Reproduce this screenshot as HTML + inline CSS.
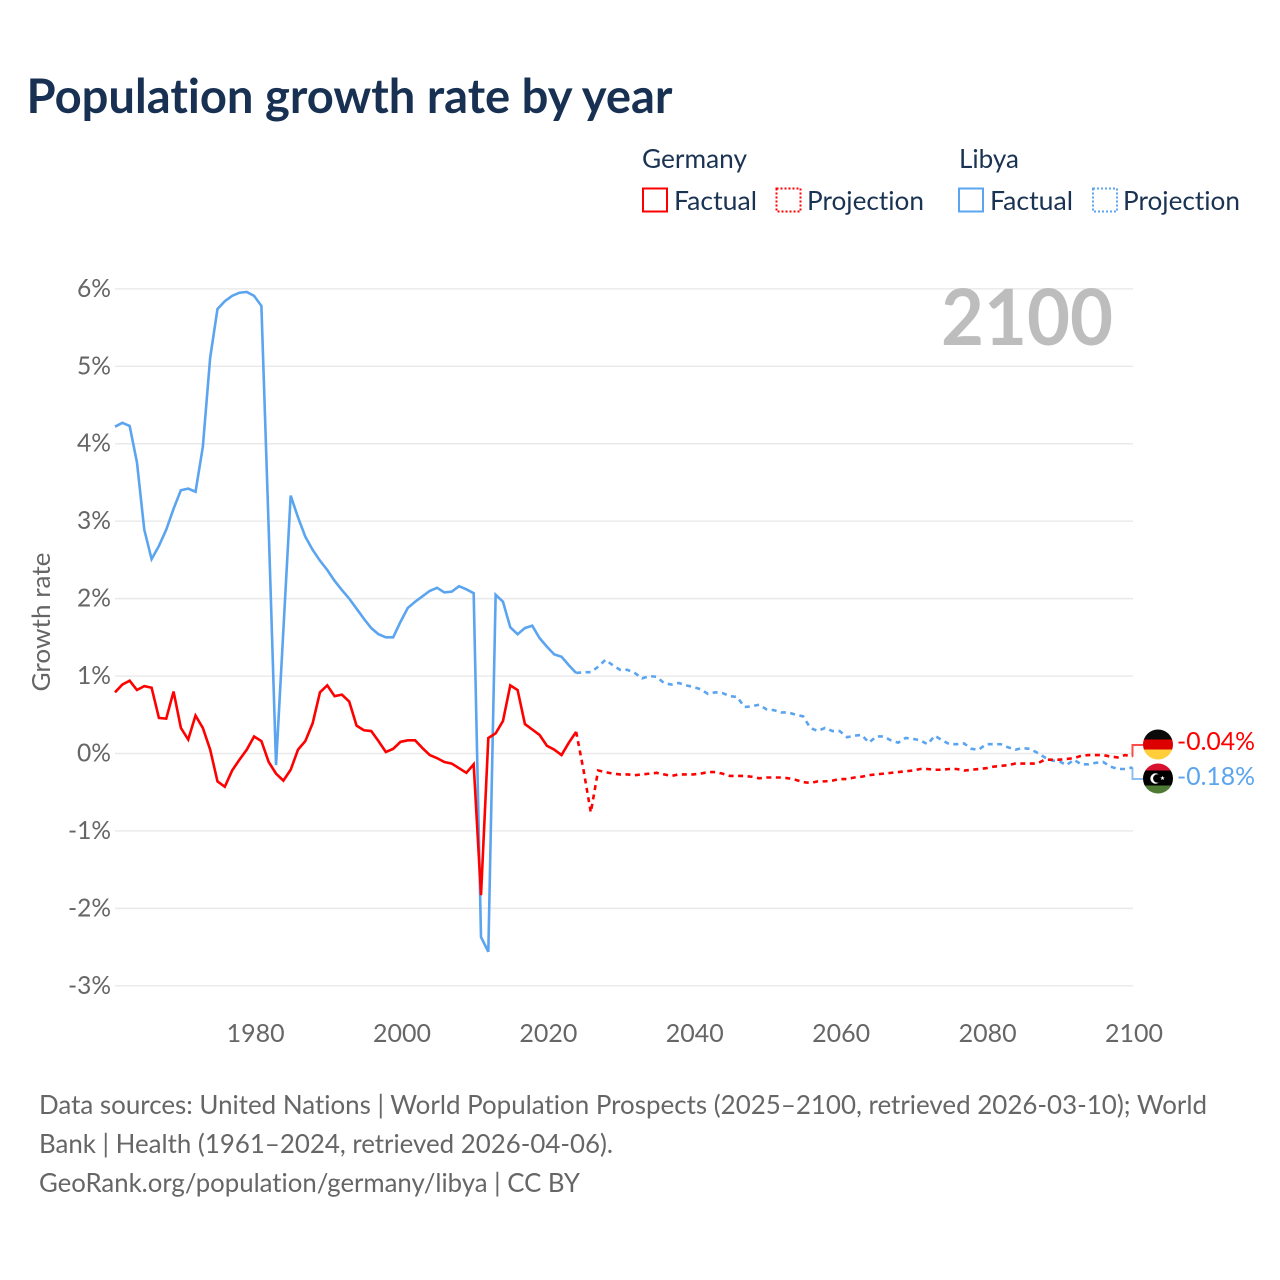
<!DOCTYPE html>
<html lang="en">
<head>
<meta charset="utf-8">
<title>Population growth rate by year</title>
<style>
html,body{margin:0;padding:0;background:#fff;}
svg{display:block;font-family:"Lato","Carlito","Liberation Sans",sans-serif;font-variant-ligatures:none;}
</style>
</head>
<body>
<svg id="chart" xmlns="http://www.w3.org/2000/svg" width="1280" height="1280" viewBox="0 0 1280 1280">
  <rect width="1280" height="1280" fill="#fff"/>
  <text x="26.5" y="113" font-size="48" font-weight="700" fill="#183153" textLength="646" lengthAdjust="spacingAndGlyphs">Population growth rate by year</text>

  <g font-size="26.5" fill="#1a3353">
    <text x="642" y="168" textLength="105" lengthAdjust="spacingAndGlyphs">Germany</text>
    <rect x="643" y="188.5" width="24" height="23" fill="none" stroke="#ff0000" stroke-width="2"/>
    <text x="674" y="210" textLength="83" lengthAdjust="spacingAndGlyphs">Factual</text>
    <rect x="776.5" y="188.5" width="24" height="23" fill="none" stroke="#ff0000" stroke-width="2" stroke-dasharray="2 2"/>
    <text x="807" y="210" textLength="117" lengthAdjust="spacingAndGlyphs">Projection</text>
    <text x="959" y="168" textLength="60" lengthAdjust="spacingAndGlyphs">Libya</text>
    <rect x="959" y="188.5" width="24" height="23" fill="none" stroke="#5ba4ef" stroke-width="2"/>
    <text x="990" y="210" textLength="83" lengthAdjust="spacingAndGlyphs">Factual</text>
    <rect x="1093" y="188.5" width="24" height="23" fill="none" stroke="#5ba4ef" stroke-width="2" stroke-dasharray="2 2"/>
    <text x="1123" y="210" textLength="117" lengthAdjust="spacingAndGlyphs">Projection</text>
  </g>

  <g id="grid"></g>
  <g id="yticks" font-size="25" fill="#666"></g>
  <g id="xticks" font-size="25" fill="#666"></g>

  <text transform="translate(50,622) rotate(-90)" text-anchor="middle" font-size="25" fill="#666" textLength="139" lengthAdjust="spacingAndGlyphs">Growth rate</text>
  <text x="941" y="345" font-size="78" font-weight="700" fill="#bdbdbd" textLength="172" lengthAdjust="spacingAndGlyphs">2100</text>

  <g id="series"></g>

  <defs>
    <clipPath id="clip-de"><circle cx="1158" cy="744.5" r="15"/></clipPath>
    <clipPath id="clip-ly"><circle cx="1158" cy="778.5" r="15"/></clipPath>
  </defs>
  <g clip-path="url(#clip-de)">
    <rect x="1143" y="729" width="30" height="10.5" fill="#0a0a0a"/>
    <rect x="1143" y="739.5" width="30" height="10" fill="#dd0000"/>
    <rect x="1143" y="749.5" width="30" height="10.5" fill="#ffce3a"/>
  </g>
  <g clip-path="url(#clip-ly)">
    <rect x="1143" y="763" width="30" height="7.5" fill="#d8112f"/>
    <rect x="1143" y="770.5" width="30" height="15" fill="#000"/>
    <rect x="1143" y="785.5" width="30" height="9" fill="#4f7a33"/>
    <circle cx="1155.5" cy="778.5" r="5.2" fill="#fff"/>
    <circle cx="1157.3" cy="778.5" r="4.2" fill="#000"/>
    <polygon points="1162.5,775.8 1163.1,777.4 1164.8,777.4 1163.5,778.4 1164,780 1162.5,779.1 1161,780 1161.5,778.4 1160.2,777.4 1161.9,777.4" fill="#fff"/>
  </g>
  <text x="1177" y="750" font-size="25" fill="#ff0000" textLength="78" lengthAdjust="spacingAndGlyphs">-0.04%</text>
  <text x="1177" y="785" font-size="25" fill="#5ba4ef" textLength="78" lengthAdjust="spacingAndGlyphs">-0.18%</text>

  <g font-size="26" fill="#666">
    <text x="39" y="1114" textLength="1168" lengthAdjust="spacingAndGlyphs">Data sources: United Nations | World Population Prospects (2025–2100, retrieved 2026-03-10); World</text>
    <text x="39" y="1153" textLength="574" lengthAdjust="spacingAndGlyphs">Bank | Health (1961–2024, retrieved 2026-04-06).</text>
    <text x="39" y="1192" textLength="541" lengthAdjust="spacingAndGlyphs">GeoRank.org/population/germany/libya | CC BY</text>
  </g>
</svg>
<script>
const xTicks = [1980, 2000, 2020, 2040, 2060, 2080, 2100];
const yTicks = [6, 5, 4, 3, 2, 1, 0, -1, -2, -3];
const factualStartYear = 1961;
const projectionStartYear = 2024;
const germanyFactual = [0.79,0.89,0.94,0.82,0.87,0.85,0.46,0.45,0.80,0.33,0.18,0.49,0.33,0.05,-0.36,-0.43,-0.22,-0.08,0.05,0.22,0.16,-0.11,-0.26,-0.35,-0.21,0.05,0.16,0.39,0.79,0.88,0.74,0.76,0.67,0.36,0.30,0.29,0.16,0.02,0.06,0.15,0.17,0.17,0.07,-0.02,-0.06,-0.11,-0.13,-0.19,-0.25,-0.14,-1.83,0.20,0.26,0.42,0.88,0.82,0.38,0.31,0.24,0.10,0.05,-0.02,0.14,0.28];
const germanyProjection = [0.28,-0.21,-0.76,-0.22,-0.24,-0.26,-0.27,-0.27,-0.28,-0.27,-0.26,-0.25,-0.27,-0.29,-0.27,-0.27,-0.27,-0.26,-0.24,-0.24,-0.26,-0.29,-0.29,-0.29,-0.30,-0.32,-0.31,-0.31,-0.31,-0.32,-0.34,-0.37,-0.38,-0.36,-0.36,-0.35,-0.33,-0.33,-0.31,-0.30,-0.28,-0.27,-0.26,-0.25,-0.24,-0.23,-0.22,-0.20,-0.20,-0.21,-0.21,-0.20,-0.20,-0.22,-0.21,-0.20,-0.19,-0.17,-0.16,-0.15,-0.13,-0.13,-0.13,-0.13,-0.08,-0.08,-0.08,-0.07,-0.06,-0.03,-0.02,-0.02,-0.02,-0.04,-0.05,-0.02,-0.04];
const libyaFactual = [4.22,4.27,4.23,3.76,2.89,2.51,2.68,2.89,3.16,3.40,3.42,3.38,3.96,5.11,5.74,5.84,5.91,5.95,5.96,5.91,5.78,2.89,-0.15,1.59,3.33,3.05,2.80,2.63,2.49,2.37,2.23,2.11,2.00,1.87,1.74,1.62,1.54,1.50,1.50,1.70,1.88,1.96,2.03,2.10,2.14,2.08,2.09,2.16,2.12,2.07,-2.37,-2.56,2.05,1.96,1.63,1.54,1.62,1.65,1.49,1.38,1.28,1.25,1.14,1.04];
const libyaProjection = [1.04,1.05,1.05,1.12,1.21,1.14,1.08,1.08,1.04,0.97,1.00,0.99,0.91,0.89,0.91,0.88,0.86,0.83,0.77,0.79,0.78,0.74,0.73,0.60,0.61,0.63,0.57,0.56,0.53,0.53,0.50,0.48,0.33,0.29,0.33,0.29,0.29,0.21,0.23,0.24,0.14,0.22,0.22,0.17,0.14,0.20,0.19,0.17,0.12,0.23,0.17,0.12,0.12,0.13,0.06,0.05,0.12,0.12,0.12,0.08,0.05,0.07,0.06,0.01,-0.05,-0.09,-0.10,-0.15,-0.08,-0.14,-0.14,-0.12,-0.11,-0.17,-0.20,-0.20,-0.18];

const RED = '#ff0000';
const BLUE = '#5ba4ef';
const NS = 'http://www.w3.org/2000/svg';
const xScale = function (year) { return 115 + (year - 1961) * 7.32; };
const yScale = function (val) { return 753.5 - val * 77.44; };

const grid = document.getElementById('grid');
const yG = document.getElementById('yticks');
const xG = document.getElementById('xticks');
const seriesG = document.getElementById('series');

yTicks.forEach(function (t) {
  const line = document.createElementNS(NS, 'line');
  
  
  line.setAttribute('x1', 115);
  line.setAttribute('x2', 1133);
  line.setAttribute('y1', yScale(t));
  line.setAttribute('y2', yScale(t));
  line.setAttribute('stroke', '#e9e9e9');
  line.setAttribute('stroke-width', '1.4');
  grid.appendChild(line);

  const label = document.createElementNS(NS, 'text');
  
  
  const str = t + '%';
  const w = str.length > 2 ? 43 : 34;
  label.setAttribute('x', 111 - w);
  label.setAttribute('y', yScale(t) + 8);
  label.setAttribute('textLength', w);
  label.setAttribute('lengthAdjust', 'spacingAndGlyphs');
  label.textContent = str;
  yG.appendChild(label);
});

xTicks.forEach(function (t) {
  const label = document.createElementNS(NS, 'text');
  
  
  label.setAttribute('x', xScale(t) + 1.5 - 29);
  label.setAttribute('y', 1042);
  label.setAttribute('textLength', 58);
  label.setAttribute('lengthAdjust', 'spacingAndGlyphs');
  label.textContent = String(t);
  xG.appendChild(label);
});

function linePath(values, startYear) {
  return values.map(function (v, i) {
    return (i ? 'L' : 'M') + xScale(startYear + i).toFixed(2) + ' ' + yScale(v).toFixed(2);
  }).join(' ');
}

function addSeries(values, startYear, color, dashed, name) {
  const p = document.createElementNS(NS, 'path');
  
  
  p.setAttribute('d', linePath(values, startYear));
  p.setAttribute('fill', 'none');
  p.setAttribute('stroke', color);
  p.setAttribute('stroke-width', '2.6');
  p.setAttribute('stroke-linejoin', 'miter');
  if (dashed) {
    p.setAttribute('stroke-dasharray', '5 4.5');
  }
  seriesG.appendChild(p);
}

function addConnector(lastValue, labelY, color, name) {
  const x = xScale(2100);
  const p = document.createElementNS(NS, 'path');
  
  
  p.setAttribute('d', 'M' + x + ' ' + yScale(lastValue) + ' V' + labelY + ' H1143');
  p.setAttribute('fill', 'none');
  p.setAttribute('stroke', color);
  p.setAttribute('stroke-width', '2');
  p.setAttribute('opacity', '0.7');
  seriesG.appendChild(p);
}

addSeries(libyaFactual, factualStartYear, BLUE, false, 'libya-factual-line');
addSeries(germanyFactual, factualStartYear, RED, false, 'germany-factual-line');
addSeries(libyaProjection, projectionStartYear, BLUE, true, 'libya-projection-line');
addSeries(germanyProjection, projectionStartYear, RED, true, 'germany-projection-line');
addConnector(germanyProjection[germanyProjection.length - 1], 745, RED, 'germany-label-connector');
addConnector(libyaProjection[libyaProjection.length - 1], 779, BLUE, 'libya-label-connector');
</script>
</body>
</html>
